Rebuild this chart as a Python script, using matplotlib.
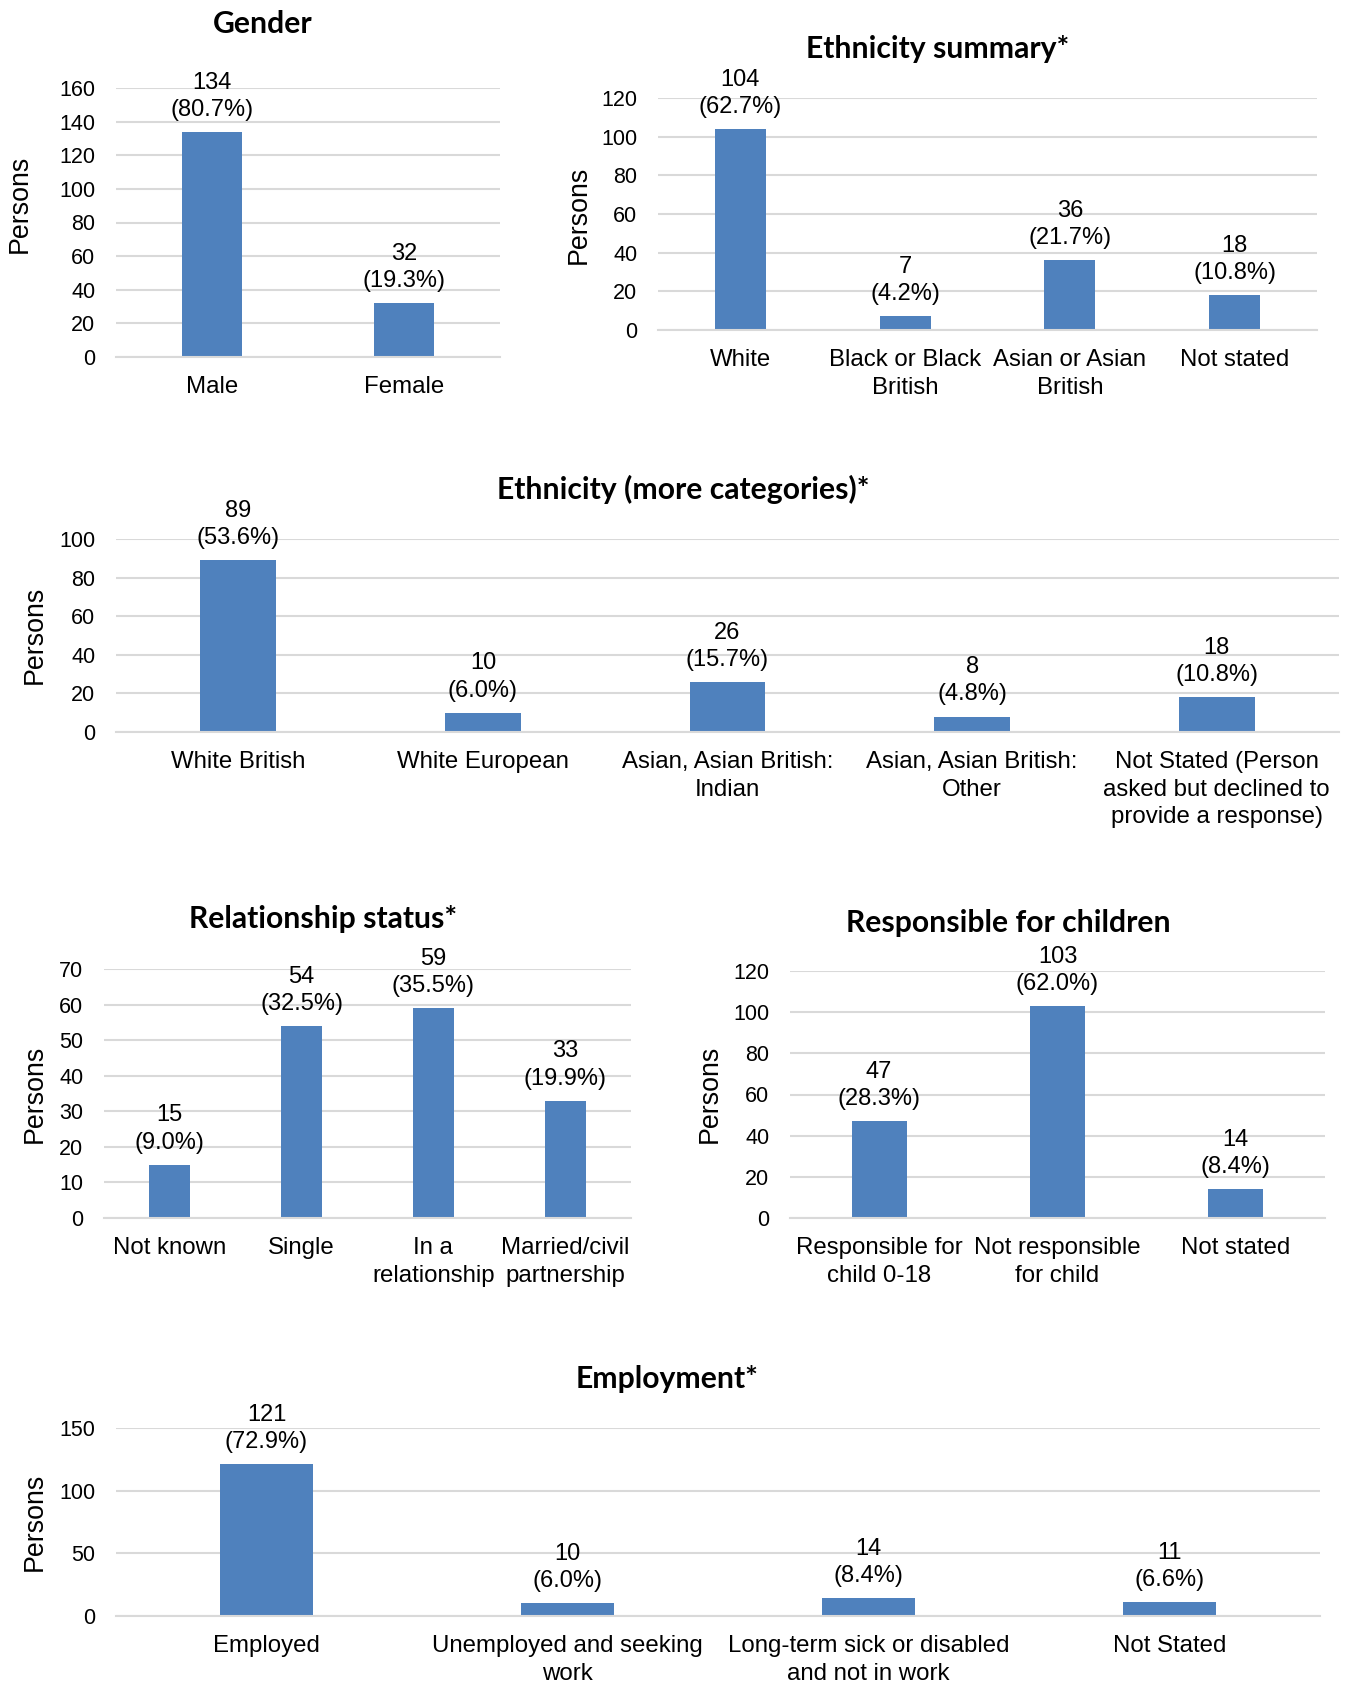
import matplotlib.pyplot as plt

# counts and shares per chart
gender_cats = ['Male', 'Female']
gender_vals = [134, 32]
gender_pct = ['80.7%', '19.3%']

eth_cats = ['White', 'Black or Black\nBritish', 'Asian or Asian\nBritish', 'Not stated']
eth_vals = [104, 7, 36, 18]
eth_pct = ['62.7%', '4.2%', '21.7%', '10.8%']

eth2_cats = ['White British', 'White European', 'Asian, Asian British:\nIndian',
             'Asian, Asian British:\nOther',
             'Not Stated (Person\nasked but declined to\nprovide a response)']
eth2_vals = [89, 10, 26, 8, 18]
eth2_pct = ['53.6%', '6.0%', '15.7%', '4.8%', '10.8%']

rel_cats = ['Not known', 'Single', 'In a\nrelationship', 'Married/civil\npartnership']
rel_vals = [15, 54, 59, 33]
rel_pct = ['9.0%', '32.5%', '35.5%', '19.9%']

child_cats = ['Responsible for\nchild 0-18', 'Not responsible\nfor child', 'Not stated']
child_vals = [47, 103, 14]
child_pct = ['28.3%', '62.0%', '8.4%']

emp_cats = ['Employed', 'Unemployed and seeking\nwork',
            'Long-term sick or disabled\nand not in work', 'Not Stated']
emp_vals = [121, 10, 14, 11]
emp_pct = ['72.9%', '6.0%', '8.4%', '6.6%']

BLUE = '#4F81BD'
GRID = '#D9D9D9'
W, H = 1355, 1686

plt.rcParams['font.family'] = ['Liberation Sans', 'DejaVu Sans']
fig = plt.figure(figsize=(W / 100, H / 100), dpi=100)


def panel(l, r, top, bottom, cats, vals, pct, ymax, step, title, tpos, ypos):
    ax = fig.add_axes([l / W, 1 - bottom / H, (r - l) / W, (bottom - top) / H])
    x = range(len(cats))
    ax.bar(x, vals, width=0.31, color=BLUE, zorder=3)
    for xi, v, p in zip(x, vals, pct):
        ax.annotate(f'{v}\n({p})', (xi, v), xytext=(0, 8), textcoords='offset points',
                    ha='center', va='bottom', fontsize=17, linespacing=1.3)
    ax.set_xlim(-0.5, len(cats) - 0.5)
    ax.set_ylim(0, ymax)
    ax.set_yticks(range(0, ymax + 1, step))
    ax.set_xticks(list(x))
    ax.set_xticklabels(cats, fontsize=17.3, linespacing=1.3)
    ax.tick_params(axis='y', labelsize=15.5, length=0, pad=15)
    ax.tick_params(axis='x', length=0, pad=14)
    ax.yaxis.grid(True, color=GRID, lw=1.5, zorder=0)
    for s in ['left', 'right', 'top']:
        ax.spines[s].set_visible(False)
    ax.spines['bottom'].set_color(GRID)
    ax.spines['bottom'].set_linewidth(1.5)
    ax.spines['bottom'].set_zorder(4)
    fig.text(tpos[0] / W, 1 - tpos[1] / H, title, fontsize=21.7, fontweight='bold',
             family='Lato', ha='center', va='center')
    fig.text(ypos[0] / W, 1 - ypos[1] / H, 'Persons', fontsize=19.3, rotation=90,
             ha='center', va='center')
    return ax


panel(116, 500, 88, 357, gender_cats, gender_vals, gender_pct, 160, 20,
      'Gender', (263, 24), (20, 204))
panel(658, 1317, 98, 330, eth_cats, eth_vals, eth_pct, 120, 20,
      'Ethnicity summary*', (938, 49), (579, 215))
panel(116, 1339, 539, 732, eth2_cats, eth2_vals, eth2_pct, 100, 20,
      'Ethnicity (more categories)*', (683, 489), (35, 635))
panel(104, 631, 969, 1218, rel_cats, rel_vals, rel_pct, 70, 10,
      'Relationship status*', (323, 919), (35, 1094))
panel(790, 1325, 971, 1218, child_cats, child_vals, child_pct, 120, 20,
      'Responsible for children', (1008, 923), (710, 1094))
panel(116, 1320, 1428, 1616, emp_cats, emp_vals, emp_pct, 150, 50,
      'Employment*', (667, 1379), (35, 1522))

fig.savefig('out.png', dpi=100)
